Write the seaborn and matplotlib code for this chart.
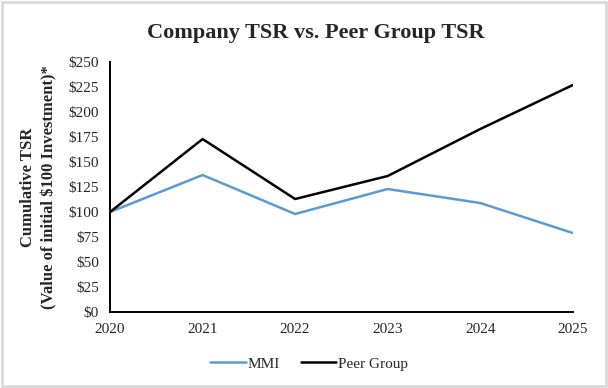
import numpy as np
import pandas as pd
import matplotlib
matplotlib.use("Agg")
import matplotlib.pyplot as plt
import seaborn as sns

years = [2020, 2021, 2022, 2023, 2024, 2025]
mmi = [100, 137, 98, 123, 109, 79]
peer_group = [100, 173, 113, 136, 183, 227]
series_names = ["MMI", "Peer Group"]
y_ticks = list(range(0, 251, 25))

df = pd.DataFrame({
    "Year": years * 2,
    "TSR": mmi + peer_group,
    "Series": [series_names[0]] * len(years) + [series_names[1]] * len(years),
})

sns.set_style("white")
plt.rcParams['font.family'] = ['Liberation Serif', 'DejaVu Serif']

fig = plt.figure(figsize=(6.08, 3.88), dpi=100)
ax = fig.add_axes([0.181, 0.196, 0.761, 0.644])

sns.lineplot(data=df, x="Year", y="TSR", hue="Series",
             palette={"MMI": "#5B9BD5", "Peer Group": "#000000"},
             linewidth=1.8, ax=ax, legend=True)

ax.set_xlim(2020, 2025)
ax.set_ylim(0, 250)
ax.set_xticks(years)
ax.set_xticklabels([str(y) for y in years], fontsize=11)
ax.set_yticks(y_ticks)
ax.set_yticklabels([f"${v}" for v in y_ticks], fontsize=11)
ax.tick_params(axis="both", direction="out", length=5, width=1.2, color="black", pad=3)
for s in ["top", "right"]:
    ax.spines[s].set_visible(False)
for s in ["left", "bottom"]:
    ax.spines[s].set_color("black")
    ax.spines[s].set_linewidth(1.4)

ax.set_xlabel("")
ax.set_ylabel("Cumulative TSR\n(Value of initial $100 Investment)*",
              fontsize=12, fontweight="bold", labelpad=8, linespacing=1.4)

fig.suptitle("Company TSR vs. Peer Group TSR", fontsize=16, fontweight="bold",
             x=0.519, y=0.94)

ax.legend(loc="upper center", bbox_to_anchor=(0.43, -0.125), ncol=2, frameon=False,
          fontsize=11, handlelength=2.3, handletextpad=0.1, columnspacing=1.4)

fig.patches.append(plt.Rectangle((0.003, 0.004), 0.994, 0.99, transform=fig.transFigure,
                                 fill=False, edgecolor="#d9d9d9", linewidth=2))

fig.savefig("out.png", dpi=100)
